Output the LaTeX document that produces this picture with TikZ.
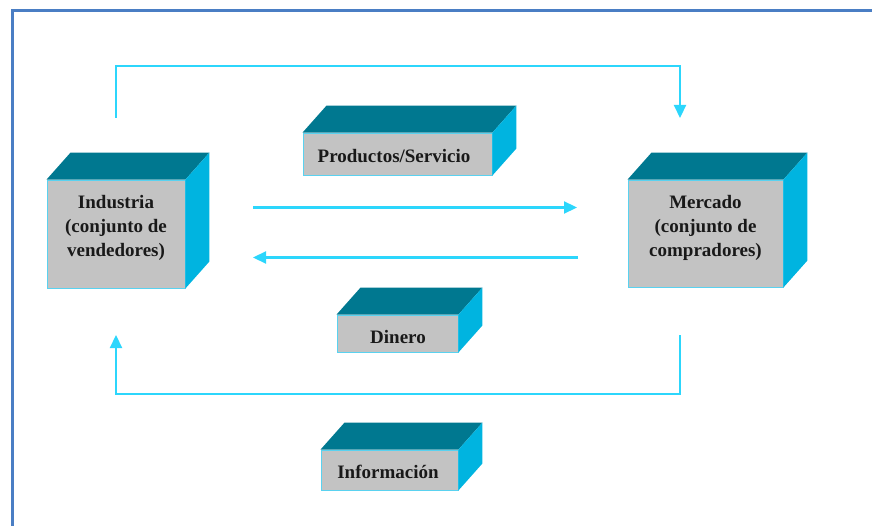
\documentclass[tikz,border=0pt]{standalone}
\usepackage{fontspec}
\setmainfont{Liberation Serif}
\usetikzlibrary{arrows.meta,calc}

\definecolor{framebl}{RGB}{74,126,196}
\definecolor{flowcy}{RGB}{44,214,252}
\definecolor{topteal}{RGB}{0,120,144}
\definecolor{sidecy}{RGB}{0,180,224}
\definecolor{facegray}{RGB}{195,195,195}
\definecolor{edgecy}{RGB}{90,210,240}

\tikzset{
  face/.style={rectangle, fill=facegray, draw=edgecy, line width=0.9pt, inner sep=0pt},
  lbl/.style={font=\bfseries\fontsize{19}{23.8}\selectfont, align=center, inner sep=0pt, text=black!90},
  flow/.style={draw=flowcy, line width=2.2pt},
  flowarrow/.style={flow, -{Triangle[length=13pt,width=12pt]}},
}

% front face first, then the top and right faces of the block
\newcommand{\blockfaces}[1]{%
  \fill[topteal] (#1.north west) -- ++(24,-27) -- ($(#1.north east)+(24,-27)$) -- (#1.north east) -- cycle;
  \fill[sidecy] (#1.north east) -- ++(24,-27) -- ($(#1.south east)+(24,-27)$) -- (#1.south east) -- cycle;
}

\begin{document}
\begin{tikzpicture}[x=1pt,y=-1pt]
\useasboundingbox (0,0) rectangle (872,526);

% page frame
\draw[framebl, line width=3pt] (880,10.5) -- (12,10.5) -- (12,540);

% blocks
\node[face, minimum width=138pt, minimum height=108pt] (ind) at (116,234) {};
\node[face, minimum width=155pt, minimum height=107pt] (mer) at (705.5,233.5) {};
\node[face, minimum width=189pt, minimum height=42pt] (prod) at (397.5,154) {};
\node[face, minimum width=121pt, minimum height=37pt] (din) at (397.5,333.5) {};
\node[face, minimum width=137pt, minimum height=40pt] (inf) at (389.5,470) {};
\blockfaces{ind}
\blockfaces{mer}
\blockfaces{prod}
\blockfaces{din}
\blockfaces{inf}

% labels
\node[lbl] (indt) at (116,228) {Industria\\(conjunto de\\vendedores)};
\node[lbl] (mert) at (705.5,228) {Mercado\\(conjunto de\\compradores)};
\node[lbl, anchor=base] (prodt) at (394,163) {Productos/Servicio};
\node[lbl, anchor=base] (dint) at (398,343) {Dinero};
\node[lbl, anchor=base] (inft) at (388,478) {Información};

% flow end points
\coordinate (ts) at (116,118);
\coordinate (te) at (680,118);
\coordinate (bs) at (680,335);
\coordinate (be) at (116,335);
\coordinate (ms1) at (253,207.5);
\coordinate (me1) at (577,207.5);
\coordinate (ms2) at (578,257.5);
\coordinate (me2) at (253,257.5);

% flows
\draw[flowarrow] (ts) -- (116,66) -- (680,66) -- (te);
\draw[flowarrow] (bs) -- (680,394) -- (116,394) -- (be);
\draw[flowarrow] (ms1) -- (me1);
\draw[flowarrow] (ms2) -- (me2);
\end{tikzpicture}
\end{document}
